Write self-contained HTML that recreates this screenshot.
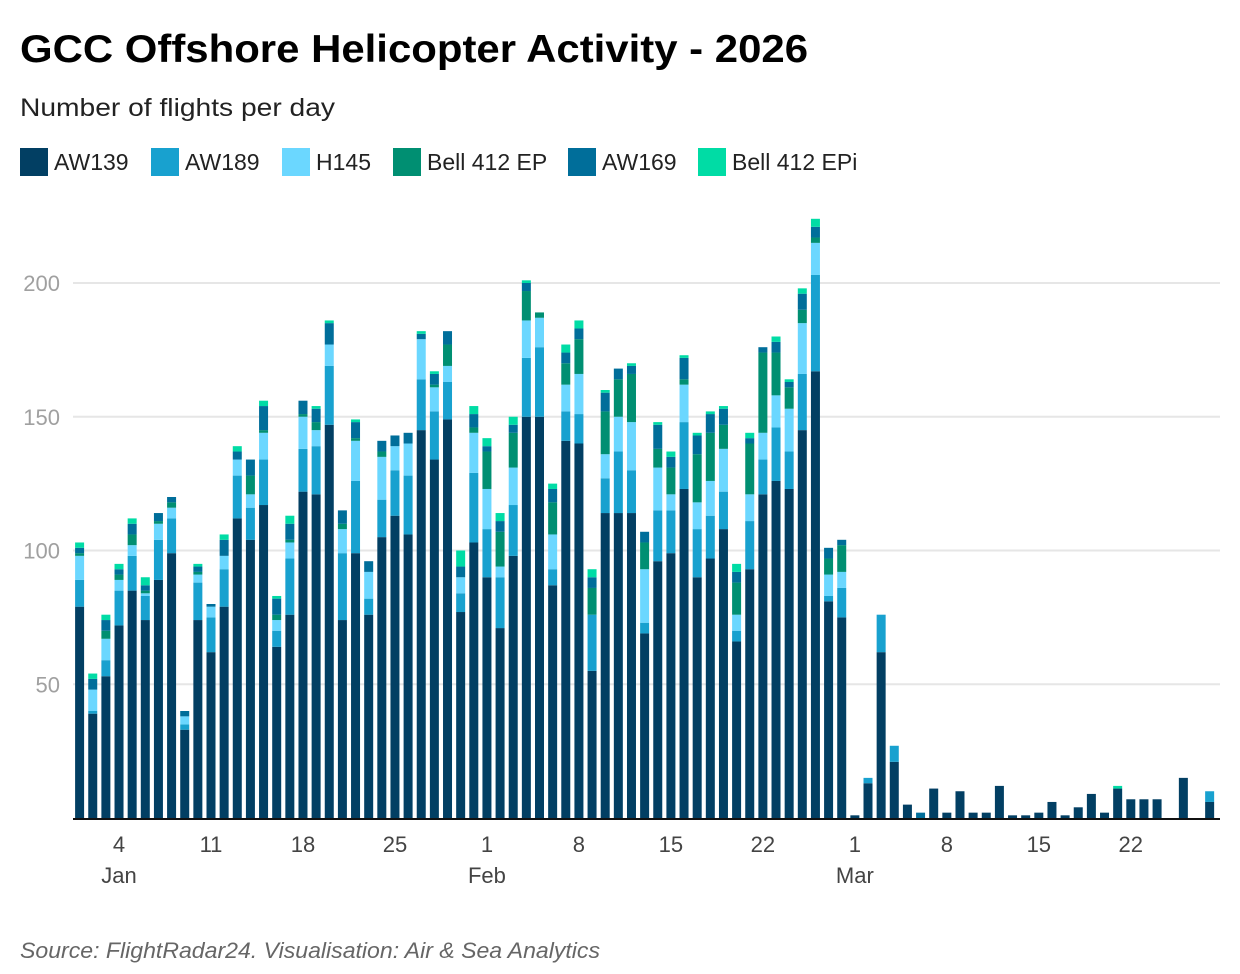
<!DOCTYPE html>
<html><head><meta charset="utf-8"><style>
body{margin:0;background:#fff;}
svg{display:block;font-family:"Liberation Sans",Arial,sans-serif;}
</style></head><body>
<svg id="chart" width="1240" height="974" viewBox="0 0 1240 974">
<text x="20" y="62" font-size="39" font-weight="bold" fill="#000" textLength="788" lengthAdjust="spacingAndGlyphs">GCC Offshore Helicopter Activity - 2026</text>
<text x="20" y="116" font-size="25" fill="#222" textLength="315" lengthAdjust="spacingAndGlyphs">Number of flights per day</text>
<g id="legend"></g>
<g id="grid"></g>
<g id="bars"></g>
<g id="xaxis"></g>
<text x="20" y="958" font-size="22" font-style="italic" fill="#666" textLength="580" lengthAdjust="spacingAndGlyphs">Source: FlightRadar24. Visualisation: Air &amp; Sea Analytics</text>
</svg>
<script>
const seriesNames = ["AW139","AW189","H145","Bell 412 EP","AW169","Bell 412 EPi"];
const seriesColors = ["#023f63","#18a1cf","#6bd7ff","#008f72","#006e9a","#00dca5"];
const aw139 = [79,39,53,72,85,74,89,99,33,74,62,79,112,104,117,64,76,122,121,147,74,99,76,105,113,106,145,134,149,77,103, 90,71,98,150,150,87,141,140,55,114,114,114,69,96,99,123,90,97,108,66,93,121,126,123,145,167,81,75, 1,13,62,21,5,0,11,2,10,2,2,12,1,1,2,6,1,4,9,2,11,7,7,7,0,15,0,6];
const aw189 = [10,1,6,13,13,9,15,13,2,14,13,14,16,12,17,6,21,16,18,22,25,27,6,14,17,22,19,18,14,7,26, 18,19,19,22,26,6,11,11,21,13,23,16,4,19,16,25,18,16,14,4,18,13,20,14,21,36,2,11, 0,2,14,6,0,0,0,0,0,0,0,0,0,0,0,0,0,0,0,0,0,0,0,0,0,0,0,4];
const h145 = [9,8,8,4,4,1,6,4,3,3,4,5,6,5,10,4,6,12,6,8,9,15,10,16,9,12,15,9,6,6,15, 15,4,14,14,11,13,10,15,0,9,13,18,20,16,6,14,10,13,16,6,10,10,12,16,19,12,8,6, 0,0,0,0,0,0,0,0,0,0,0,0,0,0,0,0,0,0,0,0,0,0,0,0,0,0,0,0];
const bell412ep = [1,0,3,2,4,1,1,2,0,1,0,0,0,7,1,2,1,1,3,0,2,1,0,2,0,0,0,1,8,0,2, 14,13,13,11,2,12,8,13,10,16,14,18,10,7,10,2,18,18,9,12,19,30,16,8,5,2,6,10, 0,0,0,0,0,0,0,0,0,0,0,0,0,0,0,0,0,0,0,0,0,0,0,0,0,0,0,0];
const aw169 = [2,4,4,2,4,2,3,2,2,2,1,6,3,6,9,6,6,5,5,8,5,6,4,4,4,4,2,4,5,4,5, 2,4,3,3,0,5,4,4,4,7,4,3,4,9,4,8,7,7,6,4,2,2,4,2,6,4,4,2, 0,0,0,0,0,2,0,0,0,0,0,0,0,0,0,0,0,0,0,0,0,0,0,0,0,0,0,0];
const bell412epi = [2,2,2,2,2,3,0,0,0,1,0,2,2,0,2,1,3,0,1,1,0,1,0,0,0,0,1,1,0,6,3, 3,3,3,1,0,2,3,3,3,1,0,1,0,1,2,1,1,1,1,3,2,0,2,1,2,3,0,0, 0,0,0,0,0,0,0,0,0,0,0,0,0,0,0,0,0,0,0,0,1,0,0,0,0,0,0,0];
const yTicks = [50,100,150,200];
const xTickDays = [3,10,17,24,31,38,45,52,59,66,73,80];
const xTickLabels = ["4","11","18","25","1","8","15","22","1","8","15","22"];
const monthDays = [3,31,59];
const monthLabels = ["Jan","Feb","Mar"];

const NS="http://www.w3.org/2000/svg";
const y0=818, pxPerUnit=2.675, x0=79.6, step=13.14, barW=9;
const yScale=v=>y0-v*pxPerUnit;
const xScale=i=>x0+i*step;
function mk(tag,attrs,parent){const e=document.createElementNS(NS,tag);for(const k in attrs)e.setAttribute(k,attrs[k]);parent.appendChild(e);return e;}

// legend
const legend=document.getElementById('legend');
const legX=[20,151,282,393,568,698];
seriesNames.forEach((n,k)=>{
  const r=mk('rect',{x:legX[k],y:148,width:28,height:28,fill:seriesColors[k]},legend);
  
  
  const t=mk('text',{x:legX[k]+34,y:170,'font-size':23,fill:'#222'},legend);
  t.textContent=n;
  
  
});

// grid + y labels
const grid=document.getElementById('grid');
yTicks.forEach(v=>{
  const l=mk('line',{x1:73,x2:1220,y1:yScale(v),y2:yScale(v),stroke:'#e6e6e6','stroke-width':2},grid);
  
  
  const t=mk('text',{x:60,y:yScale(v)+8,'font-size':22,fill:'#a0a0a0','text-anchor':'end'},grid);
  t.textContent=v;
  
  
});

// bars
const bars=document.getElementById('bars');
const series=[aw139,aw189,h145,bell412ep,aw169,bell412epi];
for(let i=0;i<aw139.length;i++){
  let cum=0;
  series.forEach((s,k)=>{
    const v=s[i]||0;
    if(v>0){
      const r=mk('rect',{x:xScale(i)-barW/2,y:yScale(cum+v),width:barW,height:v*pxPerUnit,fill:seriesColors[k]},bars);
      
      
    }
    cum+=v;
  });
}

// x axis
const xa=document.getElementById('xaxis');
const base=mk('line',{x1:73,x2:1220,y1:y0+1,y2:y0+1,stroke:'#111','stroke-width':2},xa);


xTickDays.forEach((d,k)=>{
  const t=mk('text',{x:xScale(d),y:852,'font-size':22,fill:'#444','text-anchor':'middle'},xa);
  t.textContent=xTickLabels[k];
  
  
});
monthDays.forEach((d,k)=>{
  const t=mk('text',{x:xScale(d),y:883,'font-size':22,fill:'#444','text-anchor':'middle'},xa);
  t.textContent=monthLabels[k];
  
  
});
</script>
</body></html>
